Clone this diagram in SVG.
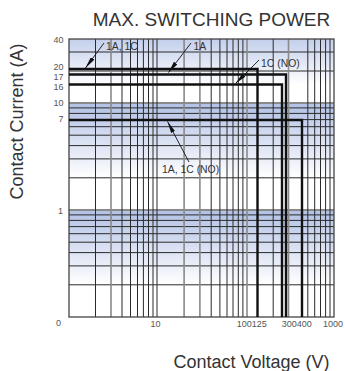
<svg xmlns="http://www.w3.org/2000/svg" width="345" height="371" viewBox="0 0 345 371">
<defs>
<linearGradient id="band" x1="0" y1="0" x2="0" y2="1">
<stop offset="0" stop-color="#b2c1e5"/>
<stop offset="0.7" stop-color="#ffffff"/>
</linearGradient>
<linearGradient id="bandTop" x1="0" y1="0" x2="0" y2="1">
<stop offset="0" stop-color="#c3cfeb"/>
<stop offset="0.72" stop-color="#ffffff"/>
</linearGradient>
<marker id="ah" viewBox="0 0 12 4.4" refX="12" refY="2.2" markerWidth="12" markerHeight="4.4" orient="auto" markerUnits="userSpaceOnUse">
<path d="M0,0 L12,2.2 L0,4.4 z" fill="#111"/>
</marker>
</defs>
<style>
.t{font-family:"Liberation Sans",Arial,sans-serif;fill:#333}
.tick{font-family:"Liberation Sans",Arial,sans-serif;font-size:9px;fill:#555}
.ann{font-family:"Liberation Sans",Arial,sans-serif;font-size:10.4px;fill:#333}
.gd{stroke:#2a2a2a;stroke-width:1;fill:none}
.gg{stroke:#8a8a8a;stroke-width:1.6;fill:none}
.gdec{stroke:#8a8a8a;stroke-width:2.2;fill:none}
.curve{stroke:#111;stroke-width:2.4;fill:none}
.lead{stroke:#111;stroke-width:0.9;fill:none;marker-end:url(#ah)}
</style>
<text class="t" x="211.5" y="26" font-size="19" text-anchor="middle">MAX. SWITCHING POWER</text>
<text class="t" x="251.5" y="368" font-size="18" text-anchor="middle">Contact Voltage (V)</text>
<text class="t" transform="translate(23,121.5) rotate(-90)" font-size="18" text-anchor="middle">Contact Current (A)</text>
<g id="plot-background">
<rect x="69" y="39" width="265" height="64" fill="url(#bandTop)"/>
<rect x="69" y="103" width="265" height="107" fill="url(#band)"/>
<rect x="69" y="210" width="265" height="107" fill="url(#band)"/>
</g>
<g id="grid-horizontal">
<path class="gd" d="M69,52H334M69,71H334M69,107.9H334M69,113.4H334M69,119.6H334M69,126.7H334M69,135.2H334M69,145.6H334M69,158.9H334M69,177.8H334M69,214.9H334M69,220.4H334M69,226.6H334M69,233.7H334M69,242.2H334M69,252.6H334M69,265.9H334M69,284.8H334"/>
<path class="gdec" d="M69,103H334M69,210H334"/>
</g>
<g id="grid-vertical">
<path class="gd" d="M95.5,39V317M122,39V317M130.5,39V317M137.5,39V317M143.4,39V317M148.5,39V317M153,39V317M157,39V317M211.2,39V317M219.9,39V317M227,39V317M233,39V317M238.3,39V317M242.9,39V317M273.2,39V317M307.8,39V317M314.7,39V317M320.5,39V317M325.6,39V317M330,39V317"/>
<path class="gg" d="M111,39V317M184.1,39V317M199.9,39V317M247,39V317M288.5,39V317"/>
</g>
<rect id="plot-frame" x="69" y="39" width="265" height="278" fill="none" stroke="#444" stroke-width="1.3"/>
<g id="connectors">
<path id="curve-20A" class="curve" d="M69,69H257.5V317"/>
<path id="curve-17A" class="curve" d="M69,74.5H286V317"/>
<path id="curve-16A" class="curve" d="M69,84.5H282V317"/>
<path id="curve-7A" class="curve" d="M69,120H302V317"/>
<path class="lead" d="M104,43L85.5,68"/>
<path class="lead" d="M191,43L168.5,72.5"/>
<path class="lead" d="M259,60L235.5,83.5"/>
<path class="lead" d="M189,162L167.5,121.5"/>
</g>
<g id="annotations">
<text class="ann" x="106" y="50">1A, 1C</text>
<text class="ann" x="193.5" y="50">1A</text>
<text class="ann" x="261" y="66.5">1C (NO)</text>
<text class="ann" x="162" y="173">1A, 1C (NO)</text>
</g>
<g id="y-ticks">
<text class="tick" x="63.5" y="43" text-anchor="end">40</text>
<text class="tick" x="63.5" y="69.5" text-anchor="end">20</text>
<text class="tick" x="63.5" y="79.5" text-anchor="end">17</text>
<text class="tick" x="63.5" y="90" text-anchor="end">16</text>
<text class="tick" x="63.5" y="105.5" text-anchor="end">10</text>
<text class="tick" x="63.5" y="122" text-anchor="end">7</text>
<text class="tick" x="63" y="214" text-anchor="end">1</text>
<text class="tick" x="61" y="326" text-anchor="end">0</text>
</g>
<g id="x-ticks">
<text class="tick" x="155.5" y="327" text-anchor="middle">10</text>
<text class="tick" x="236.7" y="327"><tspan>100</tspan><tspan>125</tspan></text>
<text class="tick" x="281.7" y="327"><tspan>300</tspan><tspan>400</tspan></text>
<text class="tick" x="343" y="327" text-anchor="end">1000</text>
</g>
</svg>
